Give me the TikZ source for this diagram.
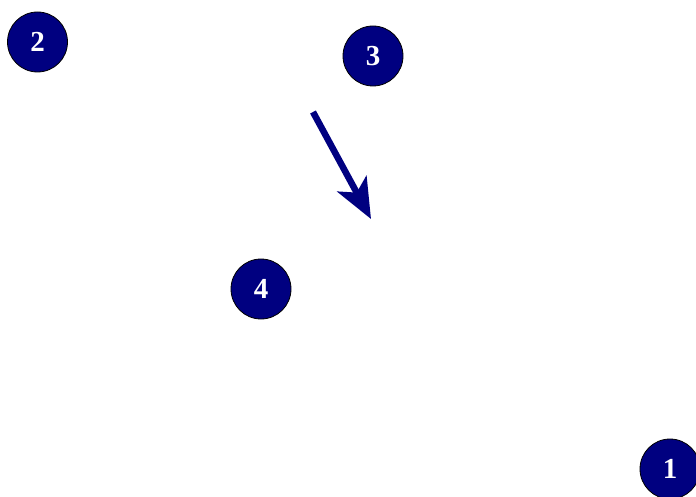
\documentclass[tikz,border=0pt]{standalone}
\usepackage{fontspec}
\setmainfont{Liberation Serif}
\usetikzlibrary{arrows.meta}

\begin{document}
\begin{tikzpicture}[
    x=1pt, y=-1pt,
    marker/.style={circle, draw=black, line width=0.8pt, fill={rgb,255:red,0;green,0;blue,128},
      text=white, font=\bfseries\fontsize{29}{29}\selectfont, minimum size=60pt, inner sep=0pt},
    pointer/.style={draw={rgb,255:red,0;green,0;blue,128}, line width=6.5pt,
      -{Stealth[length=40pt, width=33pt, inset=10pt]}}
  ]
    \useasboundingbox (0,0) rectangle (696,497);
    \node[marker] (one) at (670,469) {1};
    \node[marker] (two) at (37.5,42) {2};
    \node[marker] (three) at (373,56) {3};
    \node[marker] (four) at (261,289) {4};

    \coordinate (tail) at (313,112);
    \coordinate (head) at (371,219);
    \draw[pointer] (tail) -- (head);
  \end{tikzpicture}
\end{document}
